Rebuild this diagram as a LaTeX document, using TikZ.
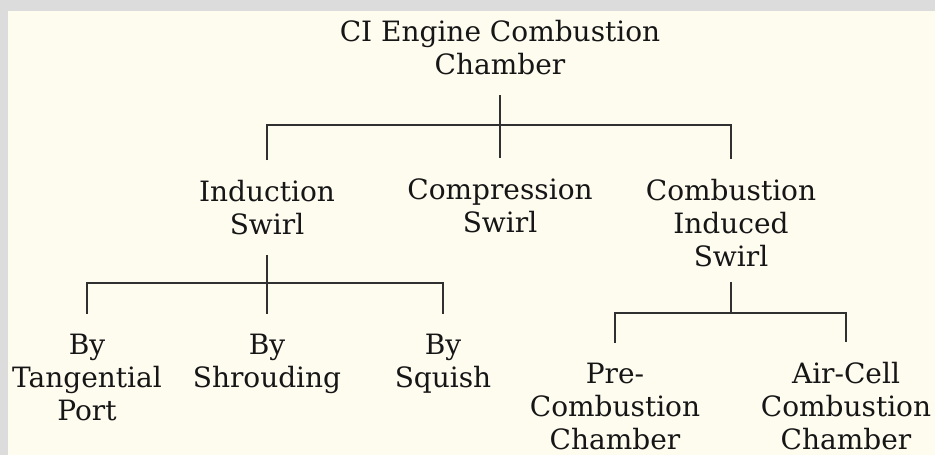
\documentclass[tikz,border=0pt]{standalone}
\usepackage{fontspec}
\setmainfont{DejaVu Serif}
\usetikzlibrary{positioning}

\definecolor{paper}{HTML}{FEFBEF}
\definecolor{frame}{HTML}{DCDCDC}
\definecolor{ink}{HTML}{161616}
\definecolor{wire}{HTML}{303030}

\begin{document}
\begin{tikzpicture}[x=0.5pt,y=-0.5pt,
    label/.style={align=center, anchor=north, inner xsep=0pt, inner ysep=10pt,
      text=ink, font=\fontsize{14}{16.5}\selectfont},
    link/.style={draw=wire, line width=1pt}]
    % page with its grey edge
    \fill[frame] (0,0) rectangle (935,455);
    \fill[paper] (8,11) rectangle (935,455);
    \useasboundingbox (0,0) rectangle (935,455);

    \node [label] (root) at (500,0) {CI Engine Combustion\\Chamber};

    \node [label] (induction) at (267,160) {Induction\\Swirl};
    \node [label] (compression) at (500,158) {Compression\\Swirl};
    \node [label] (induced) at (731,159) {Combustion\\Induced\\Swirl};

    \node [label] (tangential) at (87,314) {By\\Tangential\\Port};
    \node [label] (shrouding) at (267,314) {By\\Shrouding};
    \node [label] (squish) at (443,314) {By\\Squish};

    \node [label] (precomb) at (615,343) {Pre-\\Combustion\\Chamber};
    \node [label] (aircell) at (846,342) {Air-Cell\\Combustion\\Chamber};

    % first level
    \draw [link] (root.south) -- ++(0,30) coordinate (rootbus);
    \draw [link] (induction.north) |- (rootbus) -| (induced.north);
    \draw [link] (rootbus) -- (compression.north);

    % induction swirl branch
    \draw [link] (induction.south) -- ++(0,28) coordinate (indbus);
    \draw [link] (tangential.north) |- (indbus) -| (squish.north);
    \draw [link] (indbus) -- (shrouding.north);

    % combustion induced branch
    \draw [link] ([yshift=2.5pt]induced.south) -- ++(0,31) coordinate (combus);
    \draw [link] (precomb.north) |- (combus) -| (aircell.north);
\end{tikzpicture}
\end{document}
